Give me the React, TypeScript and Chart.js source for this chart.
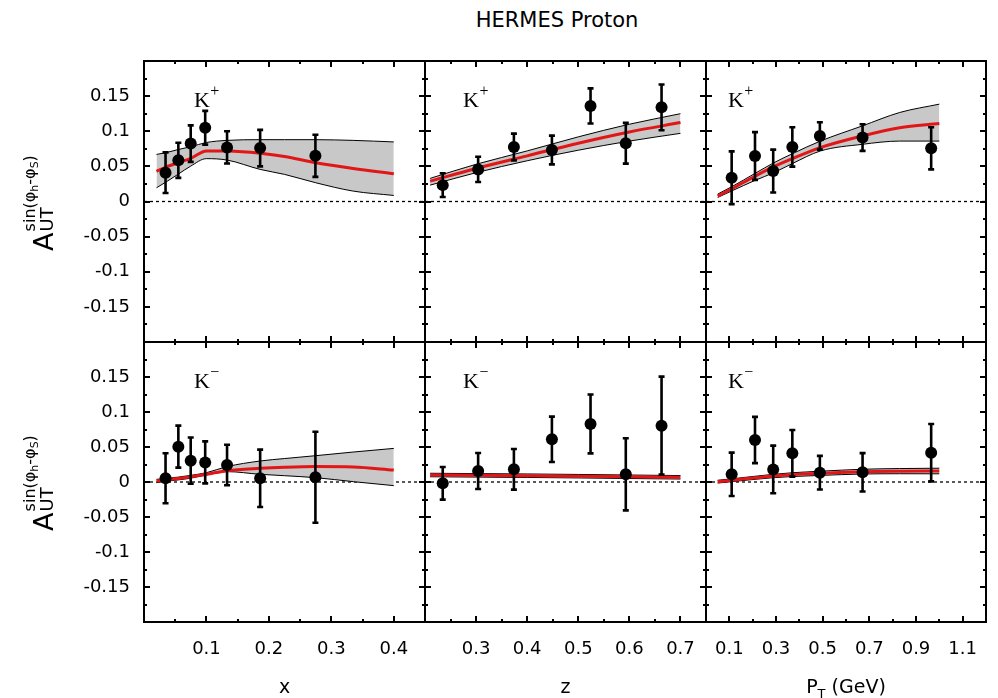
import React, { useEffect, useRef } from 'react';
import { Chart, registerables } from 'chart.js';

Chart.register(...registerables);

// ---------------- data ----------------
const xBins = [0.0345, 0.055, 0.0748, 0.098, 0.133, 0.186, 0.2745];
const zBins = [0.2347, 0.304, 0.374, 0.4484, 0.524, 0.593, 0.663];
const ptBins = [0.11, 0.21, 0.288, 0.37, 0.488, 0.671, 0.965];

const kPlusXVal = [0.041, 0.0586, 0.0824, 0.105, 0.077, 0.076, 0.065];
const kPlusXErr = [0.029, 0.025, 0.026, 0.024, 0.023, 0.026, 0.03];
const kMinusXVal = [0.0053, 0.0505, 0.0305, 0.028, 0.0243, 0.0053, 0.0067];
const kMinusXErr = [0.0357, 0.03, 0.033, 0.03, 0.029, 0.041, 0.065];

const kPlusZVal = [0.0233, 0.0457, 0.0776, 0.0733, 0.136, 0.0829, 0.134];
const kPlusZErr = [0.017, 0.018, 0.019, 0.0205, 0.025, 0.029, 0.0326];
const kMinusZVal = [-0.0019, 0.0157, 0.0181, 0.061, 0.0829, 0.011, 0.0805];
const kMinusZErr = [0.0233, 0.0257, 0.029, 0.0324, 0.042, 0.0515, 0.07];

const kPlusPtVal = [0.0338, 0.0648, 0.0433, 0.0776, 0.0933, 0.091, 0.0757];
const kPlusPtErr = [0.0376, 0.034, 0.0305, 0.028, 0.0195, 0.019, 0.03];
const kMinusPtVal = [0.011, 0.06, 0.018, 0.041, 0.0133, 0.0138, 0.0419];
const kMinusPtErr = [0.031, 0.033, 0.034, 0.0333, 0.024, 0.0274, 0.041];

// model curves and uncertainty bands
const xCurve = [0.02, 0.035, 0.055, 0.075, 0.1, 0.133, 0.186, 0.225, 0.275, 0.335, 0.4];
const kPlusXFit = [0.043, 0.049, 0.0555, 0.0615, 0.072, 0.0718, 0.0686, 0.064, 0.0552, 0.047, 0.0395];
const kPlusXUp = [0.067, 0.0695, 0.074, 0.078, 0.084, 0.087, 0.088, 0.088, 0.088, 0.087, 0.0848];
const kPlusXLo = [0.0195, 0.0276, 0.039, 0.0505, 0.061, 0.059, 0.0457, 0.0386, 0.0267, 0.0148, 0.0086];
const kMinusXFit = [0.0014, 0.003, 0.005, 0.0076, 0.011, 0.0162, 0.0195, 0.021, 0.022, 0.0214, 0.0171];
const kMinusXUp = [0.0038, 0.005, 0.007, 0.0095, 0.0133, 0.022, 0.03, 0.0335, 0.0376, 0.0428, 0.048];
const kMinusXLo = [-0.001, 0.001, 0.003, 0.0055, 0.01, 0.0148, 0.011, 0.009, 0.0062, 0.0005, -0.0052];

const zCurve = [0.21, 0.3, 0.4, 0.5, 0.6, 0.7];
const kPlusZFit = [0.029, 0.047, 0.065, 0.083, 0.099, 0.1124];
const kPlusZUp = [0.0329, 0.053, 0.072, 0.092, 0.11, 0.125];
const kPlusZLo = [0.0233, 0.041, 0.058, 0.073, 0.086, 0.097];
const kMinusZFit = [0.01, 0.0095, 0.009, 0.0083, 0.0075, 0.0067];
const kMinusZUp = [0.0125, 0.012, 0.0115, 0.0108, 0.01, 0.0092];
const kMinusZLo = [0.0075, 0.007, 0.0065, 0.0058, 0.005, 0.0042];

const ptCurve = [0.05, 0.11, 0.21, 0.29, 0.37, 0.49, 0.67, 0.83, 1.0];
const kPlusPtFit = [0.0076, 0.018, 0.036, 0.0495, 0.061, 0.0767, 0.0933, 0.105, 0.111];
const kPlusPtUp = [0.0105, 0.021, 0.04, 0.055, 0.068, 0.086, 0.1076, 0.1267, 0.1386];
const kPlusPtLo = [0.0057, 0.015, 0.03, 0.041, 0.054, 0.0719, 0.0814, 0.086, 0.086];
const kMinusPtFit = [0.0005, 0.0025, 0.006, 0.0086, 0.0105, 0.0124, 0.0148, 0.0155, 0.0157];
const kMinusPtUp = [0.0025, 0.0045, 0.0082, 0.011, 0.0132, 0.0154, 0.0182, 0.0192, 0.0197];
const kMinusPtLo = [-0.0015, 0.0005, 0.0038, 0.0062, 0.0078, 0.0094, 0.0114, 0.0118, 0.0117];

// tick labels
const yTickLabels = ['-0.15', '-0.1', '-0.05', '0', '0.05', '0.1', '0.15'];
const xTickLabels = ['0.1', '0.2', '0.3', '0.4'];
const zTickLabels = ['0.3', '0.4', '0.5', '0.6', '0.7'];
const ptTickLabels = ['0.1', '0.3', '0.5', '0.7', '0.9', '1.1'];

// ---------------- layout ----------------
const W = 998;
const H = 698;
const COL_L = [144, 425, 706];
const COL_R = [425, 706, 986];
const ROW_T = [61, 342];
const ROW_B = [342, 622];

const AXES = [
  { min: 0, max: 0.45, step: 0.05, labels: xTickLabels, kx: 0.08 },
  { min: 0.2, max: 0.75, step: 0.05, labels: zTickLabels, kx: 0.2745 },
  { min: 0, max: 1.2, step: 0.1, labels: ptTickLabels, kx: 0.094 },
];

const PANELS = [
  { row: 0, col: 0, bins: xBins, val: kPlusXVal, err: kPlusXErr, cx: xCurve, fit: kPlusXFit, up: kPlusXUp, lo: kPlusXLo, sup: '+' },
  { row: 0, col: 1, bins: zBins, val: kPlusZVal, err: kPlusZErr, cx: zCurve, fit: kPlusZFit, up: kPlusZUp, lo: kPlusZLo, sup: '+' },
  { row: 0, col: 2, bins: ptBins, val: kPlusPtVal, err: kPlusPtErr, cx: ptCurve, fit: kPlusPtFit, up: kPlusPtUp, lo: kPlusPtLo, sup: '+' },
  { row: 1, col: 0, bins: xBins, val: kMinusXVal, err: kMinusXErr, cx: xCurve, fit: kMinusXFit, up: kMinusXUp, lo: kMinusXLo, sup: '\u2212' },
  { row: 1, col: 1, bins: zBins, val: kMinusZVal, err: kMinusZErr, cx: zCurve, fit: kMinusZFit, up: kMinusZUp, lo: kMinusZLo, sup: '\u2212' },
  { row: 1, col: 2, bins: ptBins, val: kMinusPtVal, err: kMinusPtErr, cx: ptCurve, fit: kMinusPtFit, up: kMinusPtUp, lo: kMinusPtLo, sup: '\u2212' },
];

const fmt = (v: number) => String(+v.toFixed(3));
const RED = 'rgb(226,22,22)';
const SANS = "'DejaVu Sans', sans-serif";

const zeroPad = (s: any) => {
  s.paddingLeft = 0;
  s.paddingRight = 0;
  s.paddingTop = 0;
  s.paddingBottom = 0;
};

function Panel({ p }: { p: any }) {
  const ref = useRef<HTMLCanvasElement>(null);
  const ax = AXES[p.col];
  const left = p.col === 0 ? 0 : COL_L[p.col] - 6;
  const right = p.col === 2 ? W : COL_R[p.col] + 6;
  const top = ROW_T[p.row] - 6;
  const bottom = p.row === 1 ? H : ROW_B[p.row] + 6;
  const cw = right - left;
  const ch = bottom - top;

  useEffect(() => {
    const canvas = ref.current as HTMLCanvasElement;
    const deco = {
      id: 'deco' + p.row + p.col,
      beforeDatasetsDraw(chart: any) {
        const { ctx, chartArea: a, scales } = chart;
        const y0 = scales.y.getPixelForValue(0);
        ctx.save();
        ctx.strokeStyle = '#000';
        ctx.lineWidth = 1.3;
        ctx.setLineDash([3, 3]);
        ctx.beginPath();
        ctx.moveTo(a.left, y0);
        ctx.lineTo(a.right, y0);
        ctx.stroke();
        ctx.restore();
      },
      afterDatasetsDraw(chart: any) {
        const { ctx, scales } = chart;
        ctx.save();
        ctx.strokeStyle = '#000';
        ctx.lineWidth = 2.6;
        p.bins.forEach((b: number, i: number) => {
          const xp = scales.x.getPixelForValue(b);
          const y1 = scales.y.getPixelForValue(p.val[i] + p.err[i]);
          const y2 = scales.y.getPixelForValue(p.val[i] - p.err[i]);
          ctx.beginPath();
          ctx.moveTo(xp, y1);
          ctx.lineTo(xp, y2);
          ctx.moveTo(xp - 3, y1);
          ctx.lineTo(xp + 3, y1);
          ctx.moveTo(xp - 3, y2);
          ctx.lineTo(xp + 3, y2);
          ctx.stroke();
        });
        ctx.restore();
      },
      afterDraw(chart: any) {
        const { ctx, chartArea: a, scales } = chart;
        ctx.save();
        ctx.strokeStyle = '#000';
        ctx.lineWidth = 2;
        const xs = scales.x;
        const ys = scales.y;
        const k0 = Math.ceil(ax.min / ax.step - 1e-6);
        const k1 = Math.floor(ax.max / ax.step + 1e-6);
        ctx.beginPath();
        for (let k = k0 + 1; k < k1; k++) {
          const v = k * ax.step;
          const len = ax.labels.includes(fmt(v)) ? 6 : 3;
          const xp = Math.round(xs.getPixelForValue(v));
          ctx.moveTo(xp, a.bottom);
          ctx.lineTo(xp, a.bottom - len);
          ctx.moveTo(xp, a.top);
          ctx.lineTo(xp, a.top + len);
        }
        for (let k = -7; k <= 7; k++) {
          const v = k * 0.025;
          const len = yTickLabels.includes(fmt(v)) ? 6 : 3;
          const yp = Math.round(ys.getPixelForValue(v));
          ctx.moveTo(a.left, yp);
          ctx.lineTo(a.left + len, yp);
          ctx.moveTo(a.right, yp);
          ctx.lineTo(a.right - len, yp);
        }
        ctx.stroke();
        ctx.strokeRect(a.left, a.top, a.right - a.left, a.bottom - a.top);
        const kx = xs.getPixelForValue(ax.kx);
        const ky = ys.getPixelForValue(0.135);
        ctx.fillStyle = '#000';
        ctx.textBaseline = 'alphabetic';
        ctx.textAlign = 'left';
        ctx.font = "22px 'Liberation Serif', serif";
        ctx.fillText('K', kx, ky);
        const kw = ctx.measureText('K').width;
        ctx.font = "16px 'Liberation Serif', serif";
        ctx.fillText(p.sup, kx + kw + 0.5, ky - 11);
        ctx.restore();
      },
    };

    const line = (xv: number[], yv: number[]) => xv.map((x, i) => ({ x, y: yv[i] }));

    const chart = new Chart(canvas, {
      type: 'scatter',
      data: {
        datasets: [
          {
            data: line(p.bins, p.val),
            pointRadius: 6,
            pointBackgroundColor: '#000',
            pointBorderWidth: 0,
            showLine: false,
          } as any,
          {
            data: line(p.cx, p.fit),
            showLine: true,
            borderColor: RED,
            borderWidth: 3,
            pointRadius: 0,
            cubicInterpolationMode: 'monotone',
            fill: false,
          },
          {
            data: line(p.cx, p.lo),
            showLine: true,
            borderColor: '#000',
            borderWidth: 1,
            pointRadius: 0,
            cubicInterpolationMode: 'monotone',
            fill: false,
          },
          {
            data: line(p.cx, p.up),
            showLine: true,
            borderColor: '#000',
            borderWidth: 1,
            pointRadius: 0,
            cubicInterpolationMode: 'monotone',
            backgroundColor: '#c8c8c8',
            fill: '-1',
          },
        ],
      },
      options: {
        animation: false,
        responsive: false,
        devicePixelRatio: 1,
        layout: {
          padding: {
            left: p.col === 0 ? 0 : 6,
            right: p.col === 2 ? W - COL_R[2] : 6,
            top: 6,
            bottom: p.row === 1 ? 0 : 6,
          },
        },
        plugins: { legend: { display: false }, tooltip: { enabled: false } },
        scales: {
          x: {
            type: 'linear',
            min: ax.min,
            max: ax.max,
            display: p.row === 1,
            grid: { display: false, drawTicks: false },
            border: { display: false },
            ticks: {
              stepSize: ax.step,
              autoSkip: false,
              maxRotation: 0,
              minRotation: 0,
              padding: 17,
              color: '#000',
              font: { family: SANS, size: 18 },
              callback: (v: any) => (ax.labels.includes(fmt(Number(v))) ? fmt(Number(v)) : ''),
            },
            afterFit: (s: any) => {
              zeroPad(s);
              s.height = p.row === 1 ? H - ROW_B[1] : 0;
            },
          },
          y: {
            type: 'linear',
            min: -0.2,
            max: 0.2,
            display: p.col === 0,
            grid: { display: false, drawTicks: false },
            border: { display: false },
            ticks: {
              stepSize: 0.025,
              autoSkip: false,
              padding: 14,
              color: '#000',
              font: { family: SANS, size: 18 },
              callback: (v: any) => (yTickLabels.includes(fmt(Number(v))) ? fmt(Number(v)) : ''),
            },
            afterFit: (s: any) => {
              zeroPad(s);
              s.width = p.col === 0 ? COL_L[0] : 0;
            },
          },
        },
      } as any,
      plugins: [deco],
    });
    return () => chart.destroy();
  }, []);

  return (
    <canvas
      ref={ref}
      width={cw}
      height={ch}
      style={{ position: 'absolute', left, top, width: cw, height: ch }}
    />
  );
}

function YTitle({ cy }: { cy: number }) {
  return (
    <div
      style={{
        position: 'absolute',
        left: 39,
        top: cy,
        transform: 'translate(-50%,-50%) rotate(-90deg)',
        whiteSpace: 'nowrap',
        fontFamily: SANS,
        display: 'flex',
        alignItems: 'flex-end',
        lineHeight: 1,
        color: '#000',
      }}
    >
      <span style={{ fontSize: 27 }}>A</span>
      <span style={{ display: 'inline-flex', flexDirection: 'column', marginLeft: 1, marginBottom: 1 }}>
        <span style={{ fontSize: 16 }}>
          sin(φ<span style={{ fontSize: 11, position: 'relative', top: 3 }}>h</span>-φ
          <span style={{ fontSize: 11, position: 'relative', top: 3 }}>S</span>)
        </span>
        <span style={{ fontSize: 18 }}>UT</span>
      </span>
    </div>
  );
}

function Label({ x, y, size, children }: any) {
  return (
    <div
      style={{
        position: 'absolute',
        left: x,
        top: y,
        transform: 'translate(-50%,-50%)',
        whiteSpace: 'nowrap',
        fontFamily: SANS,
        fontSize: size,
        lineHeight: 1,
        color: '#000',
      }}
    >
      {children}
    </div>
  );
}

export default function App() {
  return (
    <div
      style={{
        position: 'fixed',
        left: 0,
        top: 0,
        width: W,
        height: H,
        background: '#fff',
        overflow: 'hidden',
      }}
    >
      {PANELS.map((p, i) => (
        <Panel key={i} p={p} />
      ))}
      <Label x={557} y={20} size={21}>HERMES Proton</Label>
      <Label x={284.5} y={686} size={19}>x</Label>
      <Label x={565.5} y={686} size={19}>z</Label>
      <Label x={846} y={686} size={19}>
        P<span style={{ fontSize: 13, position: 'relative', top: 5 }}>T</span> (GeV)
      </Label>
      <YTitle cy={203} />
      <YTitle cy={483} />
    </div>
  );
}
